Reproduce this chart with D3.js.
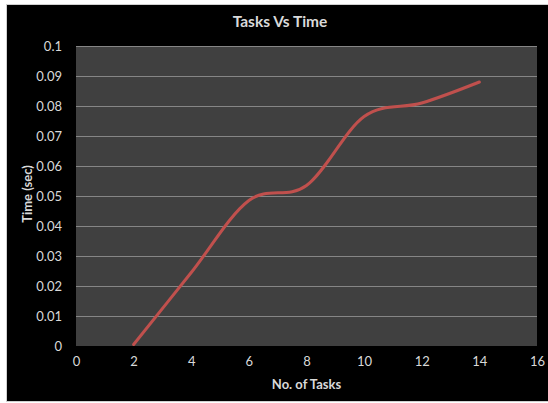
<!DOCTYPE html>
<html>
<head>
<meta charset="utf-8">
<script src="https://cdn.jsdelivr.net/npm/d3@7"></script>
<style>
  html, body { margin: 0; padding: 0; background: #ffffff; }
  svg { display: block; }
  text { font-family: Lato, "Open Sans", sans-serif; fill: #d9d9d9; }
</style>
</head>
<body>
<svg id="chart" width="548" height="403"></svg>
<script>
// Measured tasks vs elapsed time
const tasks = [2, 4, 6, 8, 10, 12, 14];
const times = [0.0005, 0.0245, 0.0485, 0.0535, 0.0765, 0.081, 0.088];
const xTicks = [0, 2, 4, 6, 8, 10, 12, 14, 16];
const yTicks = [0, 0.01, 0.02, 0.03, 0.04, 0.05, 0.06, 0.07, 0.08, 0.09, 0.1];
const yTickLabels = ["0", "0.01", "0.02", "0.03", "0.04", "0.05", "0.06", "0.07", "0.08", "0.09", "0.1"];

const svg = d3.select("#chart");

// Chart frame
svg.append("rect")
  .attr("x", 6.5).attr("y", 4.5)
  .attr("width", 542).attr("height", 397)
  .attr("fill", "#000000")
  .attr("stroke", "#d0d0d0").attr("stroke-width", 1);

const plot = { left: 76, right: 537, top: 46, bottom: 346 };

const x = d3.scaleLinear().domain([0, 16]).range([plot.left, plot.right]);
const y = d3.scaleLinear().domain([0, 0.1]).range([plot.bottom, plot.top]);

// Plot area
svg.append("rect")
  .attr("x", plot.left).attr("y", plot.top)
  .attr("width", plot.right - plot.left).attr("height", plot.bottom - plot.top)
  .attr("fill", "#404040");

// Horizontal gridlines
svg.append("g")
  .selectAll("line")
  .data(yTicks.slice(1))
  .join("line")
  .attr("x1", plot.left).attr("x2", plot.right)
  .attr("y1", d => Math.round(y(d)) + 0.5).attr("y2", d => Math.round(y(d)) + 0.5)
  .attr("stroke", "#868686").attr("stroke-width", 1);

// Y axis labels
const yAxis = d3.axisLeft(y).tickValues(yTicks)
  .tickFormat((d, i) => yTickLabels[i]).tickSize(0).tickPadding(14);
const gy = svg.append("g").attr("transform", `translate(${plot.left},0)`).call(yAxis);
gy.select(".domain").remove();
gy.selectAll("text").attr("fill", "#d9d9d9").style("font-size", "13px")
  .style("font-family", "Lato, 'Open Sans', sans-serif");

// X axis labels
const xAxis = d3.axisBottom(x).tickValues(xTicks).tickFormat(d3.format("d"))
  .tickSize(0).tickPadding(11);
const gx = svg.append("g").attr("transform", `translate(0,${plot.bottom})`).call(xAxis);
gx.select(".domain").remove();
gx.selectAll("text").attr("fill", "#d9d9d9").style("font-size", "13px")
  .style("font-family", "Lato, 'Open Sans', sans-serif");

// Smoothed series line
const line = d3.line()
  .x((d, i) => x(tasks[i]))
  .y(d => y(d))
  .curve(d3.curveCardinal.tension(0));

svg.append("path")
  .datum(times)
  .attr("d", line)
  .attr("fill", "none")
  .attr("stroke", "#c0504d")
  .attr("stroke-width", 3)
  .attr("stroke-linecap", "round");

// Title
svg.append("text")
  .attr("x", 280).attr("y", 27)
  .attr("text-anchor", "middle")
  .style("font-size", "15.5px").style("font-weight", "bold")
  .attr("fill", "#f2f2f2")
  .text("Tasks Vs Time");

// Axis titles
svg.append("text")
  .attr("x", (plot.left + plot.right) / 2).attr("y", 389)
  .attr("text-anchor", "middle")
  .style("font-size", "13px").style("font-weight", "bold")
  .attr("fill", "#e6e6e6")
  .text("No. of Tasks");

svg.append("text")
  .attr("transform", `translate(32,${(plot.top + plot.bottom) / 2 - 2}) rotate(-90)`)
  .attr("text-anchor", "middle")
  .style("font-size", "13px").style("font-weight", "bold")
  .attr("fill", "#e6e6e6")
  .text("Time (sec)");
</script>
</body>
</html>
